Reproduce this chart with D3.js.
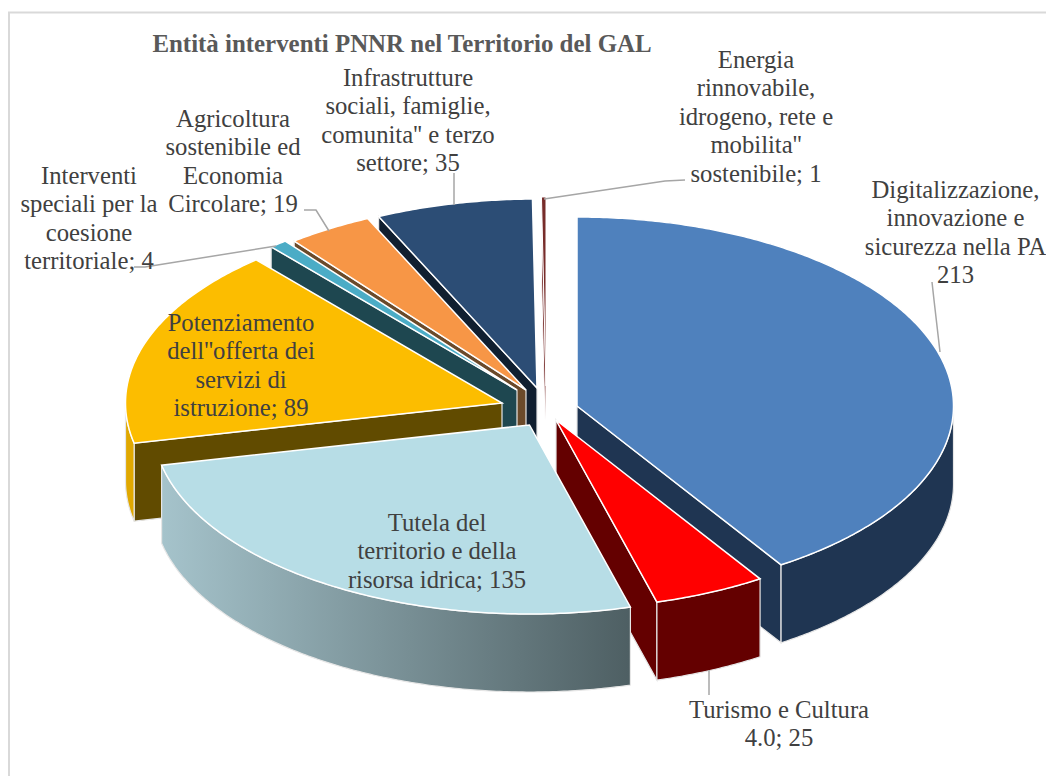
<!DOCTYPE html>
<html>
<head>
<meta charset="utf-8">
<script src="https://cdn.jsdelivr.net/npm/d3@7/dist/d3.min.js"></script>
<style>
html,body{margin:0;padding:0;background:#fff;overflow:hidden}
text{font-family:"Liberation Serif",serif;fill:#404040;font-variant-ligatures:none}
</style>
</head>
<body>
<svg id="chart" width="1046" height="776"></svg>
<script>
// ---- data ----
const categories = [
  "Digitalizzazione, innovazione e sicurezza nella PA",
  "Turismo e Cultura 4.0",
  "Tutela del territorio e della risorsa idrica",
  "Potenziamento dell''offerta dei servizi di istruzione",
  "Interventi speciali per la coesione territoriale",
  "Agricoltura sostenibile ed Economia Circolare",
  "Infrastrutture sociali, famiglie, comunita'' e terzo settore",
  "Energia rinnovabile, idrogeno, rete e mobilita'' sostenibile"
];
const values = [213, 25, 135, 89, 4, 19, 35, 1];
const title = "Entità interventi PNNR nel Territorio del GAL";
const labelLines = [
  ["Digitalizzazione,", "innovazione e", "sicurezza nella PA", "213"],
  ["Turismo e Cultura", "4.0; 25"],
  ["Tutela del", "territorio e della", "risorsa idrica; 135"],
  ["Potenziamento", "dell''offerta dei", "servizi di", "istruzione; 89"],
  ["Interventi", "speciali per la", "coesione", "territoriale; 4"],
  ["Agricoltura", "sostenibile ed", "Economia", "Circolare; 19"],
  ["Infrastrutture", "sociali, famiglie,", "comunita'' e terzo", "settore; 35"],
  ["Energia", "rinnovabile,", "idrogeno, rete e", "mobilita''", "sostenibile; 1"]
];

// ---- style & layout ----
const topColors  = ["#4f81bd", "#ff0000", "#b7dde6", "#fcbd00", "#4bacc6", "#f79646", "#2c4d75", "#772c2a"];
const wallColors = ["#1f3552", "#640000", "#8fa8af", "#614b00", "#1e4750", "#6b4a2a", "#101f30", "#5a1a18"];
const rimColors  = ["#1f3552", "#640000", "url(#rimGrad)", "#e0a800", "#1e4750", "#6b4a2a", "#101f30", "#5a1a18"];
const apexX = [577, 556, 529.5, 502, 517, 526, 537, 546];
const apexY = [406, 420, 425, 403, 390, 390, 388, 386];
const paintOrder = [7, 6, 5, 4, 3, 0, 1, 2];
const labelX = [955.5, 779, 437, 241, 89, 233, 408, 756];
const labelY = [198, 718, 531, 331, 184, 127, 86, 68];
const lineHeight = 28.4;
const labelSize = 24.7;
const leaders = [
  [[932, 282], [934, 300], [940, 352]],
  [[709, 670], [709, 695]],
  [],
  [],
  [[134, 267], [145, 267], [276, 246]],
  [[304, 210], [316, 210], [329, 231]],
  [[454, 173], [454, 205]],
  [[685, 180], [665, 181], [544, 199]]
];
const rx = 376.5, ry = 189, depth = 78;

const svg = d3.select("#chart");
const defs = svg.append("defs");
const grad = defs.append("linearGradient").attr("id", "rimGrad")
  .attr("gradientUnits", "userSpaceOnUse").attr("x1", 158).attr("x2", 630).attr("y1", 0).attr("y2", 0);
grad.append("stop").attr("offset", 0).attr("stop-color", "#a6c4cc");
grad.append("stop").attr("offset", 1).attr("stop-color", "#4e5f63");
const fade = defs.append("linearGradient").attr("id", "sliverFade")
  .attr("gradientUnits", "userSpaceOnUse").attr("x1", 0).attr("x2", 0).attr("y1", 380).attr("y2", 420);
fade.append("stop").attr("offset", 0).attr("stop-color", "#772c2a");
fade.append("stop").attr("offset", 1).attr("stop-color", "#772c2a").attr("stop-opacity", 0);

// chart frame
svg.append("path").attr("d", "M9,776V12.5H1046").attr("fill", "none").attr("stroke", "#d9d9d9").attr("stroke-width", 2);

// projection helpers, through d3 scales
const sx = d3.scaleLinear().domain([-1, 1]).range([-rx, rx]);
const sy = d3.scaleLinear().domain([-1, 1]).range([-ry, ry]);
const pie = d3.pie().sort(null).startAngle(0).endAngle(2 * Math.PI);
const arcs = pie(values);
const rimPt = (i, a, dz = 0) => [apexX[i] + sx(Math.sin(a)), apexY[i] + sy(-Math.cos(a)) + dz];
const line = d3.line();
const arcPts = (i, a0, a1, dz = 0) => {
  const n = Math.max(2, Math.ceil((a1 - a0) / 0.01));
  return d3.range(n + 1).map(k => rimPt(i, a0 + (a1 - a0) * k / n, dz));
};

// a radial wall is visible when the slice's top face lies above that edge on screen
function radialVisible(edge, mid) {
  const ex = Math.sin(edge), ey = -Math.cos(edge);
  const mx = Math.sin(mid), my = -Math.cos(mid);
  if (Math.abs(ex) < 1e-6) return false;
  return my * ry < (ey * ry / (ex * rx)) * (mx * rx);
}

paintOrder.forEach(i => {
  const d = arcs[i];
  const mid = (d.startAngle + d.endAngle) / 2;
  const g = svg.append("g").attr("class", "slice");
  const apex = [apexX[i], apexY[i]];
  const apexLow = [apexX[i], apexY[i] + depth];
  const thin = (d.endAngle - d.startAngle) < 0.02;
  [d.startAngle, d.endAngle].forEach(edge => {
    if (!radialVisible(edge, mid)) return;
    const p = rimPt(i, edge), q = rimPt(i, edge, depth);
    g.append("path").attr("d", line([apex, p, q, apexLow]) + "Z")
      .attr("fill", thin ? "url(#sliverFade)" : wallColors[i])
      .attr("stroke", thin ? "#fff" : "#e6e6e6").attr("stroke-width", thin ? 1 : 1.2);
  });
  const a0 = Math.max(d.startAngle, Math.PI / 2), a1 = Math.min(d.endAngle, 3 * Math.PI / 2);
  if (a1 > a0) {
    const pts = arcPts(i, a0, a1).concat(arcPts(i, a0, a1, depth).reverse());
    g.append("path").attr("d", line(pts) + "Z")
      .attr("fill", rimColors[i]).attr("stroke", "#e6e6e6").attr("stroke-width", 1.2);
  }
  const top = [apex].concat(arcPts(i, d.startAngle, d.endAngle));
  g.append("path").attr("d", line(top) + "Z")
    .attr("fill", topColors[i]).attr("stroke", "#fff")
    .attr("stroke-width", thin ? 1 : 1.5).attr("stroke-linejoin", "miter");
});

// leader lines
leaders.forEach(pts => {
  if (pts.length) svg.append("path").attr("d", line(pts)).attr("fill", "none")
    .attr("stroke", "#a6a6a6").attr("stroke-width", 1.5);
});

// title
svg.append("text").attr("x", 402).attr("y", 52).attr("text-anchor", "middle")
  .attr("font-size", 24.9).attr("font-weight", "bold").style("fill", "#595959").text(title);

// data labels
labelLines.forEach((lines, i) => {
  const t = svg.append("text").attr("text-anchor", "middle").attr("font-size", labelSize);
  lines.forEach((s, k) => t.append("tspan").attr("x", labelX[i]).attr("y", labelY[i] + k * lineHeight).text(s));
});
</script>
</body>
</html>
